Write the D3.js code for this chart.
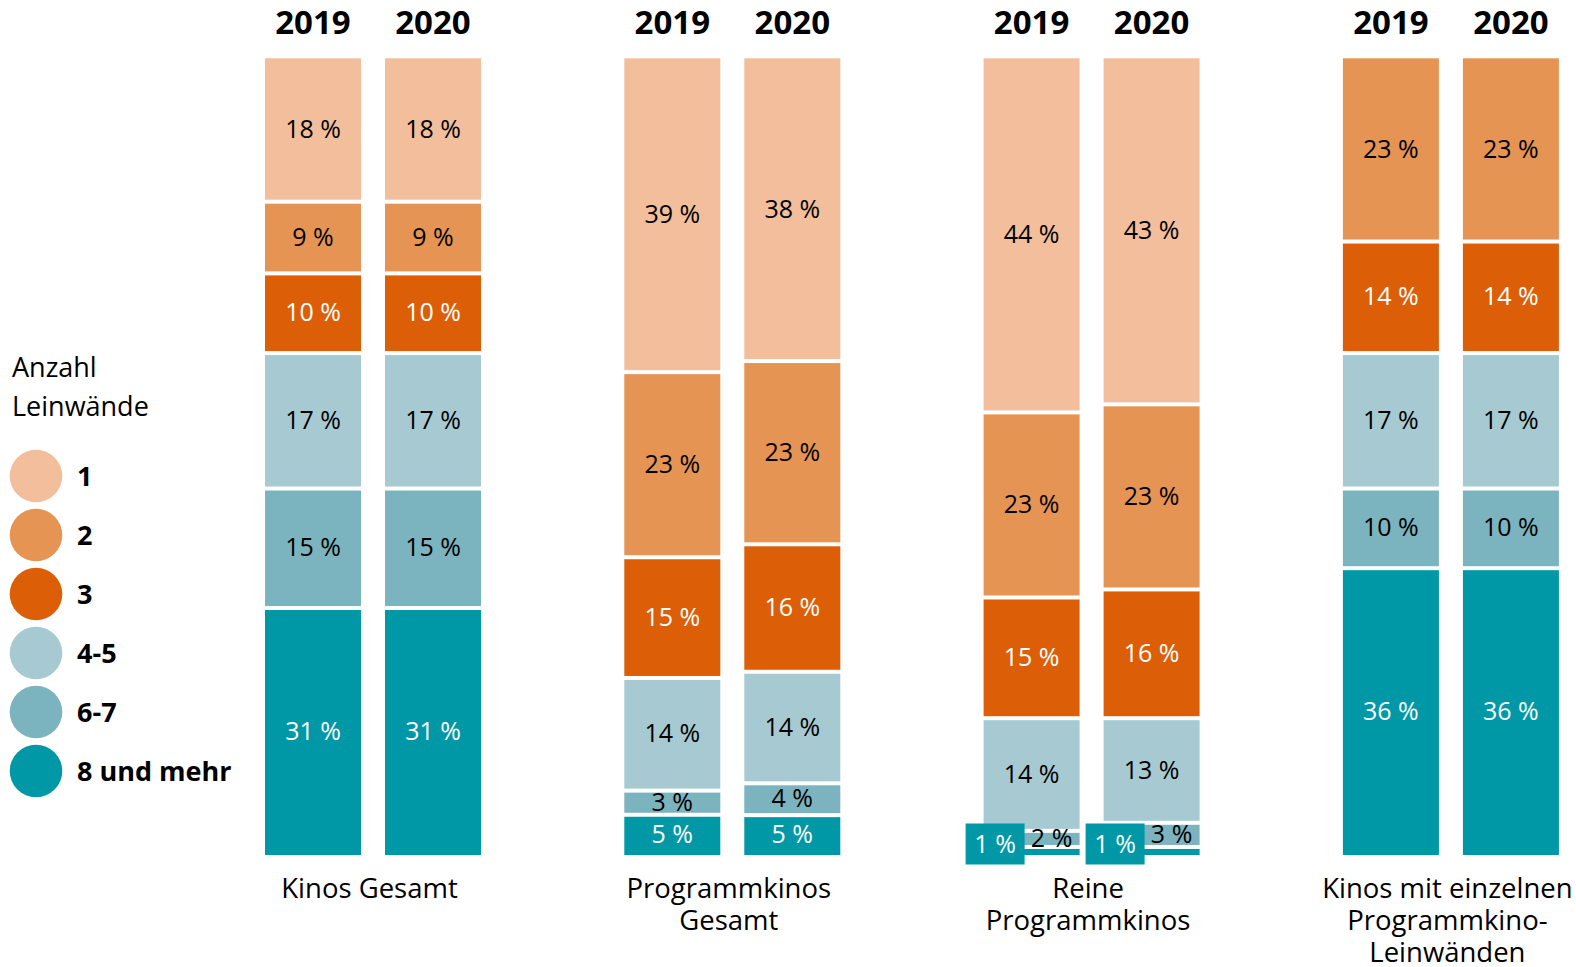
<!DOCTYPE html>
<html>
<head>
<meta charset="utf-8">
<script src="https://cdn.jsdelivr.net/npm/d3@7"></script>
<style>
  body { margin: 0; background: #fff; }
  text { font-family: "Open Sans", sans-serif; }
</style>
</head>
<body>
<div id="chart"></div>
<script>
// data
var categories = ["1", "2", "3", "4-5", "6-7", "8 und mehr"];
var years = ["2019", "2020"];
var groups = ["Kinos Gesamt", "Programmkinos Gesamt", "Reine Programmkinos", "Kinos mit einzelnen Programmkino-Leinwänden"];
var groupLines = [["Kinos Gesamt"], ["Programmkinos", "Gesamt"], ["Reine", "Programmkinos"], ["Kinos mit einzelnen", "Programmkino-", "Leinwänden"]];

var kinosGesamt2019 = [18, 9, 10, 17, 15, 31];
var kinosGesamt2020 = [18, 9, 10, 17, 15, 31];
var programmkinos2019 = [39, 23, 15, 14, 3, 5];
var programmkinos2020 = [38, 23, 16, 14, 4, 5];
var reine2019 = [44, 23, 15, 14, 2, 1];
var reine2020 = [43, 23, 16, 13, 3, 1];
var einzelne2019 = [0, 23, 14, 17, 10, 36];
var einzelne2020 = [0, 23, 14, 17, 10, 36];

var colors = ["#f3be9b", "#e69453", "#dc5f08", "#a7cad2", "#7bb3be", "#0098a6"];
var whiteText = ["3", "8 und mehr"];

var seriesByGroup = [
  [kinosGesamt2019, kinosGesamt2020],
  [programmkinos2019, programmkinos2020],
  [reine2019, reine2020],
  [einzelne2019, einzelne2020]
];

// table for the stack
var rows = [];
groups.forEach(function (g, gi) {
  years.forEach(function (yr, yi) {
    var row = { group: g, year: yr };
    categories.forEach(function (c, ci) { row[c] = seriesByGroup[gi][yi][ci]; });
    rows.push(row);
  });
});

var width = 1576, height = 967;
var barTop = 58.3, barBottom = 855;
var gap = 4;

var svg = d3.select("#chart").append("svg")
  .attr("width", width)
  .attr("height", height);

var x0 = d3.scaleBand().domain(groups).range([265, 265 + 4 * 359.3]);
var x1 = d3.scaleBand().domain(years).range([0, 216]).paddingInner(0.2);
var y = d3.scaleLinear().domain([0, 1]).range([barBottom, barTop]);
var color = d3.scaleOrdinal().domain(categories).range(colors);

var stack = d3.stack()
  .keys(categories.slice().reverse())
  .offset(d3.stackOffsetExpand);
var stacked = stack(rows);

function segTop(d) { return y(d[1]) + (d[1] < 0.9999 ? gap / 2 : 0); }
function segBottom(d) { return y(d[0]) - (d[0] > 0.0001 ? gap / 2 : 0); }

// bars
var layer = svg.selectAll("g.layer")
  .data(stacked)
  .enter()
  .append("g")
  .attr("class", "layer")
  .attr("fill", d => color(d.key));

layer.selectAll("rect")
  .data(d => d.filter(p => p[1] - p[0] > 0))
  .enter()
  .append("rect")
  .attr("x", d => x0(d.data.group) + x1(d.data.year))
  .attr("width", x1.bandwidth())
  .attr("y", d => segTop(d))
  .attr("height", d => segBottom(d) - segTop(d));

// segment labels
stacked.forEach(function (s) {
  s.forEach(function (p) {
    var v = p.data[s.key];
    if (v <= 0) return;
    var bx = x0(p.data.group) + x1(p.data.year);
    var cx = bx + x1.bandwidth() / 2;
    var cy = (y(p[0]) + y(p[1])) / 2;
    var hasCallout = categories.some(c => p.data[c] > 0 && p.data[c] <= 1);
    if (v <= 1) {
      // callout box for a tiny segment
      svg.append("rect")
        .attr("x", bx - 18)
        .attr("y", y(0) - 11 - 20.5)
        .attr("width", 59)
        .attr("height", 41)
        .attr("fill", color(s.key));
      svg.append("text")
        .attr("x", bx - 18 + 29.5)
        .attr("y", y(0) - 11)
        .attr("dy", "0.34em")
        .attr("text-anchor", "middle")
        .attr("fill", "#fff")
        .style("font-size", "25px")
        .text(v + " %");
      return;
    }
    svg.append("text")
      .attr("x", hasCallout && v < 5 ? cx + 20 : cx)
      .attr("y", cy)
      .attr("dy", "0.32em")
      .attr("text-anchor", "middle")
      .attr("fill", whiteText.indexOf(s.key) >= 0 ? "#fff" : "#000")
      .style("font-size", "25px")
      .text(v + " %");
  });
});

// year labels
groups.forEach(function (g) {
  years.forEach(function (yr) {
    svg.append("text")
      .attr("x", x0(g) + x1(yr) + x1.bandwidth() / 2)
      .attr("y", 34)
      .attr("text-anchor", "middle")
      .style("font-size", "33px")
      .style("font-weight", "bold")
      .text(yr);
  });
});

// group labels
groups.forEach(function (g, gi) {
  var t = svg.append("text")
    .attr("text-anchor", "middle")
    .style("font-size", "27.5px");
  groupLines[gi].forEach(function (line, li) {
    t.append("tspan")
      .attr("x", x0(g) + 104.5)
      .attr("y", 898 + li * 32.2)
      .text(line);
  });
});

// legend
var legend = svg.append("g");
legend.append("text")
  .attr("x", 12).attr("y", 377)
  .style("font-size", "27px")
  .text("Anzahl");
legend.append("text")
  .attr("x", 12).attr("y", 416)
  .style("font-size", "27px")
  .text("Leinwände");

var ly = d3.scalePoint().domain(categories).range([476, 771]);
var item = legend.selectAll("g.item")
  .data(categories)
  .enter()
  .append("g")
  .attr("class", "item")
  .attr("transform", d => `translate(0, ${ly(d)})`);
item.append("circle")
  .attr("cx", 36)
  .attr("r", 26.3)
  .attr("fill", d => color(d));
item.append("text")
  .attr("x", 77)
  .attr("dy", "0.36em")
  .style("font-size", "27px")
  .style("font-weight", "bold")
  .text(d => d);
</script>
</body>
</html>
